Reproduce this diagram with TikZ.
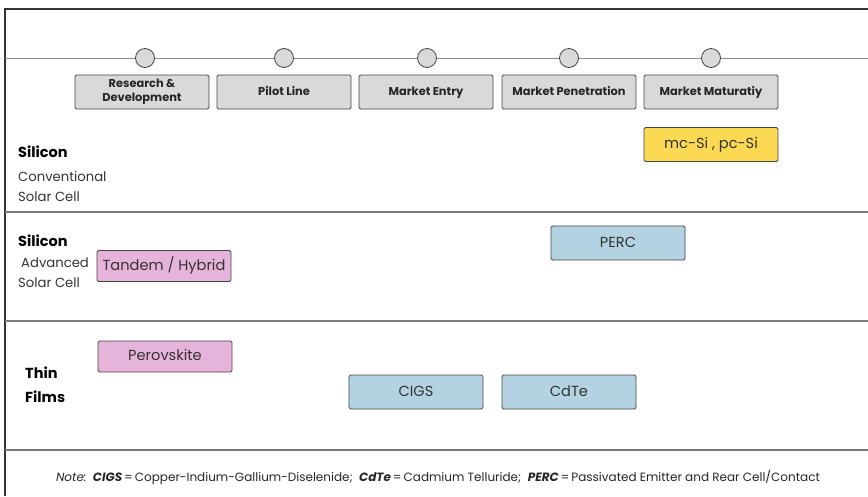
\documentclass[tikz,border=0pt]{standalone}
\usepackage{fontspec}
\setmainfont{Poppins}
\definecolor{stagefill}{HTML}{D9D9D9}
\definecolor{boxline}{HTML}{454545}
\definecolor{yel}{HTML}{FCD952}
\definecolor{blu}{HTML}{B3D2E2}
\definecolor{pnk}{HTML}{E6B3DA}
\definecolor{sepline}{HTML}{7A7A7A}
\begin{document}
\begin{tikzpicture}[x=1pt,y=-1pt,
  stagebox/.style={draw=boxline,fill=stagefill,line width=0.9pt,rounded corners=1.5pt,minimum width=134pt,minimum height=34pt,inner sep=1pt,font=\fontsize{11.4}{13.5}\selectfont\bfseries,align=center,text=black!85},
  oneline/.style={text height=8.5pt,text depth=2.5pt},
  techbox/.style={draw=boxline,line width=0.9pt,rounded corners=1.5pt,minimum width=134pt,minimum height=34pt,inner sep=1pt,font=\fontsize{14.6}{16}\selectfont,text=black!80,text height=11pt,text depth=3pt},
  dot/.style={circle,draw=boxline,fill=stagefill,line width=0.8pt,minimum size=19pt,inner sep=0pt},
  sep/.style={draw=sepline,line width=1.1pt},
  cat/.style={anchor=west,font=\fontsize{14.5}{16}\selectfont\bfseries,inner sep=0pt},
  sub/.style={anchor=west,font=\fontsize{13.2}{15}\selectfont,inner sep=0pt,text=black!80}
]
\useasboundingbox (0,0) rectangle (868,496);
% frame
\coordinate (tl) at (5,9);
\coordinate (tr) at (868,9);
\coordinate (bl) at (5,496);
\draw[line width=1.2pt,black!80] (bl) -- (tl) -- (tr);
% timeline
\coordinate (tlA) at (5,58);
\coordinate (tlB) at (868,58);
\draw[line width=0.5pt,black!45] (tlA) -- (tlB);
\foreach \i/\x in {1/145,2/284,3/427,4/569,5/711}{
  \node[dot] (c\i) at (\x,58) {};
}
% stages
\node[stagebox] (s1) at (142,92) {Research \&\\Development};
\node[stagebox,oneline] (s2) at (284,92) {Pilot Line};
\node[stagebox,oneline] (s3) at (426,92) {Market Entry};
\node[stagebox,oneline] (s4) at (569,92) {Market Penetration};
\node[stagebox,oneline] (s5) at (711,92) {Market Maturatiy};
% separators
\coordinate (a1) at (5,212); \coordinate (b1) at (868,212);
\coordinate (a2) at (5,321); \coordinate (b2) at (868,321);
\coordinate (a3) at (5,450); \coordinate (b3) at (868,450);
\draw[sep] (a1) -- (b1);
\draw[sep] (a2) -- (b2);
\draw[sep] (a3) -- (b3);
% category labels
\node[cat] (l1) at (18,152) {Silicon};
\node[sub] (l1a) at (18,177) {Conventional};
\node[sub] (l1b) at (18,197) {Solar Cell};
\node[cat] (l2) at (18,241) {Silicon};
\node[sub] (l2a) at (21,263) {Advanced};
\node[sub] (l2b) at (18,283) {Solar Cell};
\node[cat] (l3) at (25,373) {Thin};
\node[cat] (l3a) at (25,397) {Films};
% tech boxes
\node[techbox,fill=yel] (mc) at (711,144.5) {mc-Si , pc-Si};
\node[techbox,fill=blu] (perc) at (618,243) {PERC};
\node[techbox,fill=pnk,minimum height=31pt] (tan) at (164,266) {Tandem / Hybrid};
\node[techbox,fill=pnk,minimum height=31pt] (per) at (165,356.5) {Perovskite};
\node[techbox,fill=blu] (cigs) at (416,392) {CIGS};
\node[techbox,fill=blu] (cdte) at (569,392) {CdTe};
% note
\node[font=\fontsize{12}{14}\selectfont,text=black!85] (note) at (438,477) {\textit{Note:}\ \ \textbf{\textit{CIGS}}\,=\,Copper-Indium-Gallium-Diselenide;\ \ \textbf{\textit{CdTe}}\,=\,Cadmium Telluride;\ \ \textbf{\textit{PERC}}\,=\,Passivated Emitter and Rear Cell/Contact};
\end{tikzpicture}
\end{document}
